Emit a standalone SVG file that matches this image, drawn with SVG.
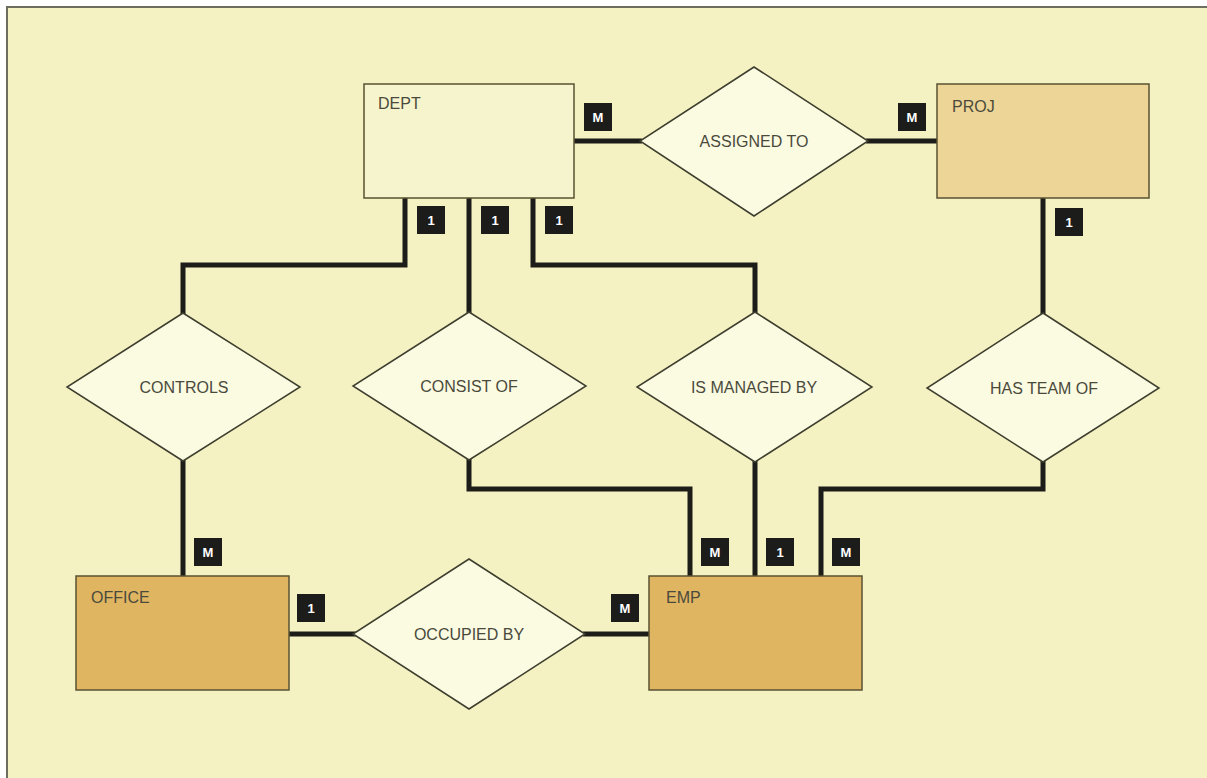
<svg xmlns="http://www.w3.org/2000/svg" width="1207" height="778" viewBox="0 0 1207 778">
<style>
.conn{fill:none;stroke:#1c1c18;stroke-width:5;stroke-linejoin:miter;stroke-linecap:butt}
.ent{stroke:#5a5232;stroke-width:1.5}
.rel{fill:#fbfbe2;stroke:#3e3e2e;stroke-width:1.5}
.lbl{font-family:"Liberation Sans",Arial,sans-serif;font-size:16px;fill:#4a4a3c}
.badge rect{fill:#1c1c1a}
.badge text{font-family:"Liberation Sans",Arial,sans-serif;font-size:13px;font-weight:bold;fill:#ffffff;text-anchor:middle}
</style>
<rect x="0" y="0" width="1207" height="778" fill="#ffffff"/>
<rect x="7" y="7" width="1210" height="790" fill="#f4f1c2" stroke="#6e6e60" stroke-width="2"/>

<g id="connectors">
  <path class="conn" d="M574,141 H642"/>
  <path class="conn" d="M866,141 H937"/>
  <path class="conn" d="M405,198 V265 H183 V314"/>
  <path class="conn" d="M469,198 V313"/>
  <path class="conn" d="M533,198 V265 H755 V313"/>
  <path class="conn" d="M1043,198 V314"/>
  <path class="conn" d="M183,460 V576"/>
  <path class="conn" d="M469,459 V489 H690 V576"/>
  <path class="conn" d="M755,461 V576"/>
  <path class="conn" d="M1043,461 V489 H821 V576"/>
  <path class="conn" d="M289,634 H356"/>
  <path class="conn" d="M583,634 H649"/>
</g>

<g id="DEPT">
  <rect class="ent" x="364" y="84" width="210" height="114" fill="#f6f4cd"/>
  <text class="lbl" x="378" y="109">DEPT</text>
</g>
<g id="PROJ">
  <rect class="ent" x="937" y="84" width="212" height="114" fill="#ecd596"/>
  <text class="lbl" x="952" y="112">PROJ</text>
</g>
<g id="OFFICE">
  <rect class="ent" x="76" y="576" width="213" height="114" fill="#dfb562"/>
  <text class="lbl" x="91" y="603">OFFICE</text>
</g>
<g id="EMP">
  <rect class="ent" x="649" y="576" width="213" height="114" fill="#dfb562"/>
  <text class="lbl" x="666" y="603">EMP</text>
</g>

<g id="ASSIGNED_TO">
  <polygon class="rel" points="754,67 868,141 754,216 640,141"/>
  <text class="lbl" x="754" y="147" text-anchor="middle">ASSIGNED TO</text>
</g>
<g id="CONTROLS">
  <polygon class="rel" points="183,313 300,387 183,461 67,387"/>
  <text class="lbl" x="184" y="393" text-anchor="middle">CONTROLS</text>
</g>
<g id="CONSIST_OF">
  <polygon class="rel" points="469,312 586,386 469,460 353,386"/>
  <text class="lbl" x="469" y="392" text-anchor="middle">CONSIST OF</text>
</g>
<g id="IS_MANAGED_BY">
  <polygon class="rel" points="755,312 872,387 755,462 637,387"/>
  <text class="lbl" x="754" y="393" text-anchor="middle">IS MANAGED BY</text>
</g>
<g id="HAS_TEAM_OF">
  <polygon class="rel" points="1043,313 1159,388 1043,462 927,388"/>
  <text class="lbl" x="1044" y="394" text-anchor="middle">HAS TEAM OF</text>
</g>
<g id="OCCUPIED_BY">
  <polygon class="rel" points="469,559 585,634 469,709 353,634"/>
  <text class="lbl" x="469" y="640" text-anchor="middle">OCCUPIED BY</text>
</g>

<g id="cardinalities">
  <g class="badge"><rect x="584" y="103" width="28" height="28"/><text x="598" y="122">M</text></g>
  <g class="badge"><rect x="898" y="103" width="28" height="28"/><text x="912" y="122">M</text></g>
  <g class="badge"><rect x="1055" y="208" width="28" height="28"/><text x="1069" y="227">1</text></g>
  <g class="badge"><rect x="417" y="206" width="28" height="28"/><text x="431" y="225">1</text></g>
  <g class="badge"><rect x="481" y="206" width="28" height="28"/><text x="495" y="225">1</text></g>
  <g class="badge"><rect x="545" y="206" width="28" height="28"/><text x="559" y="225">1</text></g>
  <g class="badge"><rect x="194" y="538" width="28" height="28"/><text x="208" y="557">M</text></g>
  <g class="badge"><rect x="297" y="594" width="28" height="28"/><text x="311" y="613">1</text></g>
  <g class="badge"><rect x="611" y="594" width="28" height="28"/><text x="625" y="613">M</text></g>
  <g class="badge"><rect x="701" y="538" width="28" height="28"/><text x="715" y="557">M</text></g>
  <g class="badge"><rect x="766" y="538" width="28" height="28"/><text x="780" y="557">1</text></g>
  <g class="badge"><rect x="832" y="538" width="28" height="28"/><text x="846" y="557">M</text></g>
</g>
</svg>
